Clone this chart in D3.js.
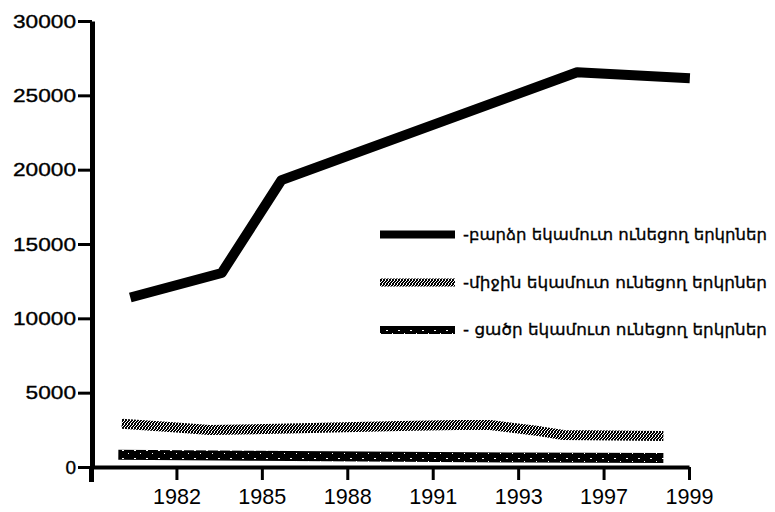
<!DOCTYPE html>
<html><head><meta charset="utf-8">
<script src="https://cdn.jsdelivr.net/npm/d3@7"></script>
<style>body{margin:0;background:#fff}svg{display:block}</style>
</head><body>
<svg id="c" width="775" height="512"></svg>
<script>
// ---- data ----
const xTickLabels = ["1982","1985","1988","1991","1993","1997","1999"];
const yTicks = [0,5000,10000,15000,20000,25000,30000];
const seriesNames = ["-բարձր եկամուտ ունեցող երկրներ","-միջին եկամուտ ունեցող երկրներ","- ցածր եկամուտ ունեցող երկրներ"];
// x positions in tick-index units (tick i = label i-1), y values
const highX = [0.46, 1.53, 2.23, 5.69, 7.01];
const highY = [11400, 13050, 19300, 26550, 26150];
const midX = [0.36, 0.88, 1.39, 2.45, 3.62, 4.29, 4.67, 5.26, 5.53, 6.70];
const midY = [2910, 2700, 2490, 2600, 2760, 2830, 2830, 2400, 2150, 2080];
const lowX = [0.32, 1.86, 3.62, 5.02, 6.70];
const lowY = [820, 760, 690, 640, 600];

const svg = d3.select("#c");
const defs = svg.append("defs");
// grey speckled pattern (middle income)
const p1 = defs.append("pattern").attr("id","midPat").attr("patternUnits","userSpaceOnUse").attr("width",6).attr("height",4);
p1.append("rect").attr("width",6).attr("height",4).attr("fill","#000");
[[1,0],[4,0],[0,1],[3,1],[5,2],[2,2],[1,3],[4,3]].forEach(([a,b])=>p1.append("rect").attr("x",a).attr("y",b).attr("width",1).attr("height",1).attr("fill","#fff"));
// dark speckled pattern (low income)
const p2 = defs.append("pattern").attr("id","lowPat").attr("patternUnits","userSpaceOnUse").attr("width",12).attr("height",8);
p2.append("rect").attr("width",12).attr("height",8).attr("fill","#000");
p2.append("rect").attr("x",2).attr("y",2).attr("width",2).attr("height",1).attr("fill","#fff");
p2.append("rect").attr("x",8).attr("y",5).attr("width",1).attr("height",1).attr("fill","#fff");

const x = d3.scaleLinear().domain([0,7]).range([91,689]);
const y = d3.scaleLinear().domain([0,30000]).range([467,21]);

// axes
const yAxis = svg.append("g").attr("transform","translate(92,0)")
  .call(d3.axisLeft(y).tickValues(yTicks).tickSize(14).tickPadding(2).tickSizeOuter(0).tickFormat(d3.format("d")));
yAxis.select(".domain").attr("stroke","#000").attr("stroke-width",5);
yAxis.selectAll(".tick line").attr("stroke","#000").attr("stroke-width",3);
yAxis.selectAll("text").attr("font-family","'Liberation Sans', Arial, sans-serif").attr("font-size",19).attr("fill","#000")
  .attr("stroke","#000").attr("stroke-width",0.35)
  .each(function(d){ const s=String(d); if(s.length>1) d3.select(this).attr("textLength",s.length*12.6).attr("lengthAdjust","spacingAndGlyphs"); });

const xAxis = svg.append("g").attr("transform","translate(0,467)")
  .call(d3.axisBottom(x).tickValues(d3.range(0,8)).tickSize(13).tickPadding(8).tickSizeOuter(0)
    .tickFormat(i => i===0 ? "" : xTickLabels[i-1]));
xAxis.select(".domain").attr("stroke","#000").attr("stroke-width",4);
xAxis.selectAll(".tick line").attr("stroke","#000").attr("stroke-width",3);
xAxis.selectAll(".tick").filter(d=>d===0).select("line").attr("y2",15).attr("stroke-width",5);
xAxis.selectAll("text").attr("font-family","'Liberation Sans', Arial, sans-serif").attr("font-size",22).attr("fill","#000")
  .filter(d=>d>0).attr("textLength",48).attr("lengthAdjust","spacingAndGlyphs");

// lines
const line = d3.line().x(d=>x(d[0])).y(d=>y(d[1]));
svg.append("path").datum(lowX.map((v,i)=>[v,lowY[i]]))
  .attr("d",line).attr("fill","none").attr("stroke","url(#lowPat)").attr("stroke-width",10).attr("stroke-linejoin","round");
svg.append("path").datum(midX.map((v,i)=>[v,midY[i]]))
  .attr("d",line).attr("fill","none").attr("stroke","url(#midPat)").attr("stroke-width",10).attr("stroke-linejoin","round");
svg.append("path").datum(highX.map((v,i)=>[v,highY[i]]))
  .attr("d",line).attr("fill","none").attr("stroke","#000").attr("stroke-width",10).attr("stroke-linejoin","round");

// legend
const legStroke = ["#000","url(#midPat)","url(#lowPat)"];
const legY = [234.5, 282.5, 330];
const leg = svg.append("g");
seriesNames.forEach((name,i)=>{
  leg.append("line").attr("x1",380).attr("x2",455).attr("y1",legY[i]).attr("y2",legY[i])
    .attr("stroke",legStroke[i]).attr("stroke-width",8);
  leg.append("text").attr("x",463).attr("y",legY[i]+5)
    .attr("font-family","'DejaVu Sans', sans-serif").attr("font-size",15).attr("fill","#000")
    .attr("stroke","#000").attr("stroke-width",0.3)
    .attr("textLength",304).attr("lengthAdjust","spacingAndGlyphs").text(name);
});
</script>
</body></html>
